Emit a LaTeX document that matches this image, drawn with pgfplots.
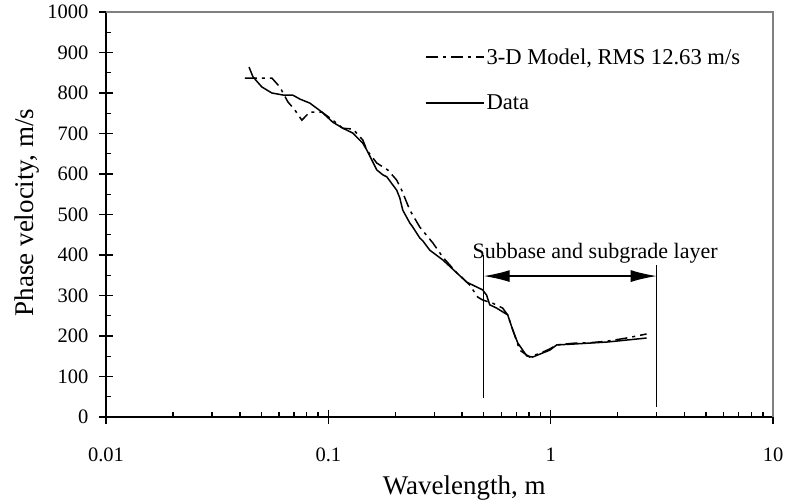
\documentclass[border=0pt]{standalone}
\usepackage{fontspec}
\setmainfont{Liberation Serif}
\usepackage{pgfplots}
\pgfplotsset{compat=1.18}
\usetikzlibrary{arrows.meta}
\definecolor{bordergray}{RGB}{128,128,128}
\begin{document}
\begin{tikzpicture}
\begin{axis}[
  scale only axis, width=667bp, height=405bp,
  xmode=log, xmin=0.01, xmax=10, ymin=0, ymax=1000,
  axis x line*=bottom, axis y line*=left,
  axis line style={line width=1.4bp, -},
  xtick={0.01,0.1,1,10}, xticklabels={0.01,0.1,1,10},
  minor xtick={0.02,0.03,0.04,0.05,0.06,0.07,0.08,0.09,0.2,0.3,0.4,0.5,0.6,0.7,0.8,0.9,2,3,4,5,6,7,8,9},
  ytick={0,100,...,1000}, minor ytick={50,150,...,950},
  tick align=center, major tick length=14bp, minor tick length=5bp,
  major tick style={line width=1.4bp, black},
  minor tick style={line width=1.4bp, black},
  minor x tick style={yshift=2.5bp},
  minor y tick style={xshift=2.5bp},
  /pgf/number format/assume math mode=true,
  /pgf/number format/1000 sep={},
  tick label style={font=\fontsize{20.5bp}{24bp}\selectfont},
  xticklabel style={yshift=-20bp},
  yticklabel style={xshift=-7bp},
  xlabel={Wavelength, m}, ylabel={Phase velocity, m/s},
  label style={font=\fontsize{27bp}{31bp}\selectfont},
  xlabel style={at={(rel axis cs:0.537,0)}, anchor=south, yshift=-87bp},
  ylabel style={at={(rel axis cs:0,0.505)}, anchor=center, yshift=79bp},
  legend style={draw=none, fill=none, at={(0.478,0.915)}, anchor=north west,
    font=\fontsize{22.6bp}{26bp}\selectfont, row sep=25bp, inner sep=0pt,
    cells={anchor=west}},
  legend image code/.code={\draw[#1] (0bp,0bp) -- (58bp,0bp);},
  clip=false,
]
\addplot[black, line width=1.5bp, dash pattern=on 12bp off 5bp on 3bp off 5bp] coordinates {
(0.0421,837) (0.0557,837) (0.0605,815) (0.0658,778) (0.0707,758) (0.076,733)
(0.0826,753) (0.0935,753) (0.1047,733) (0.1162,713) (0.1289,711) (0.1429,684)
(0.149,659) (0.1652,627) (0.185,610) (0.203,585) (0.2139,560) (0.2325,511)
(0.2578,469) (0.295,430) (0.327,395) (0.378,356) (0.402,343) (0.432,326)
(0.470,296) (0.494,289) (0.548,281) (0.608,269) (0.641,252) (0.726,165)
(0.805,148) (0.92,160) (0.99,168) (1.065,178) (1.256,182) (1.545,184)
(1.786,187) (2.197,195) (2.70,205)
};
\addlegendentry{3-D Model, RMS 12.63 m/s}
\addplot[black, line width=1.5bp] coordinates {
(0.044,864) (0.0458,840) (0.0502,815) (0.0557,800) (0.0625,795) (0.0691,795)
(0.0745,785) (0.0826,775) (0.0935,753) (0.1047,728) (0.1162,713) (0.1289,701)
(0.1343,691) (0.1429,676) (0.149,659) (0.1652,610) (0.1758,598) (0.1832,593)
(0.195,573) (0.203,560) (0.2096,541) (0.2161,511) (0.2325,479) (0.2398,469)
(0.2578,442) (0.266,435) (0.2859,412) (0.327,388) (0.378,356) (0.419,333)
(0.465,321) (0.494,314) (0.515,301) (0.532,277) (0.571,269) (0.641,252)
(0.675,215) (0.711,183) (0.780,151) (0.830,148) (0.920,158) (0.990,165)
(1.065,178) (1.256,180) (1.545,183) (1.786,185) (2.197,190) (2.70,195)
};
\addlegendentry{Data}
\draw[line width=1.4bp] (axis cs:0.5,47) -- (axis cs:0.5,400);
\draw[line width=1.4bp] (axis cs:3,25) -- (axis cs:3,375);
\draw[line width=1.4bp, {Latex[length=26bp,width=12bp]}-{Latex[length=26bp,width=12bp]}] (axis cs:0.5,348) -- (axis cs:3,348);
\node[font=\fontsize{22bp}{26bp}\selectfont] at (axis cs:1.585,405) {Subbase and subgrade layer};
\draw[bordergray, line width=1.4bp] (rel axis cs:0,1) -- (rel axis cs:1,1) -- (rel axis cs:1,0);
\end{axis}
\pgfresetboundingbox
\path (-106bp,-84bp) rectangle (682bp,417bp);
\end{tikzpicture}
\end{document}
